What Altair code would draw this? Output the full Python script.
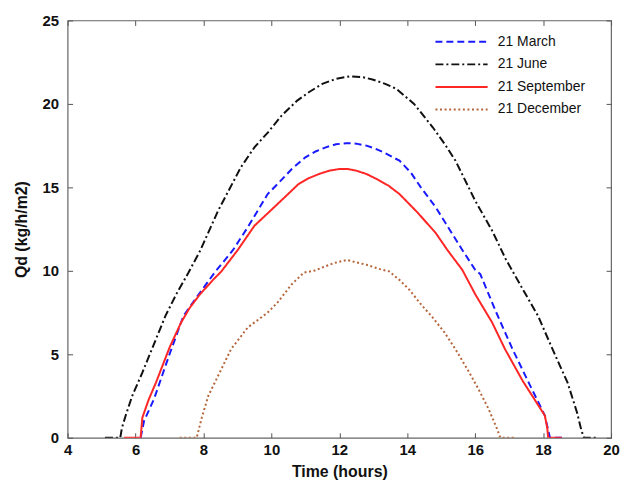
import altair as alt
import pandas as pd

series_names = ["21 March", "21 June", "21 September", "21 December"]
series_colors = ["#1a1aff", "#111111", "#ff2626", "#b5653a"]
series_dash = [[7, 4], [8, 3, 2, 3], [1, 0], [2, 2.6]]

march_t = [6.15, 6.25, 6.54, 7.0, 7.41, 7.9, 8.33, 8.87, 9.3, 9.89, 10.18, 10.6, 11.0, 11.3,
           11.6, 11.9, 12.2, 12.5, 12.8, 13.05, 13.3, 13.77, 14.1, 14.4, 14.84, 15.13, 15.62,
           16.0, 16.15, 16.6, 17.1, 17.6, 18.05, 18.2, 18.6]
march_q = [0, 1.0, 2.3, 5.0, 7.3, 8.7, 9.9, 11.25, 12.6, 14.6, 15.2, 16.1, 16.8, 17.15,
           17.4, 17.58, 17.65, 17.62, 17.5, 17.33, 17.1, 16.6, 15.9, 15.0, 13.8, 12.85, 11.25,
           10.06, 9.8, 7.6, 5.3, 3.2, 1.33, 0, 0]

june_t = [5.1, 5.55, 5.6, 5.71, 5.9, 6.2, 6.48, 6.88, 7.2, 7.56, 7.9, 8.43, 9.1, 9.5, 9.9,
          10.3, 10.76, 11.1, 11.5, 11.9, 12.3, 12.7, 13.0, 13.35, 13.68, 14.2, 14.75, 15.1,
          15.42, 16.0, 16.5, 16.9, 17.4, 17.85, 18.3, 18.72, 19.0, 19.12, 19.2, 19.6]
june_q = [0, 0, 0.6, 1.33, 2.5, 3.9, 5.3, 7.3, 8.6, 9.9, 11.2, 13.6, 16.2, 17.4, 18.3,
          19.3, 20.2, 20.7, 21.2, 21.5, 21.65, 21.6, 21.45, 21.2, 20.9, 20.0, 18.6, 17.6,
          16.6, 14.2, 12.4, 10.7, 8.9, 7.3, 5.2, 3.3, 1.5, 0.5, 0, 0]

sept_t = [5.66, 6.15, 6.2, 6.39, 6.6, 7.0, 7.34, 7.6, 7.9, 8.3, 8.52, 9.01, 9.5, 10.18, 10.8,
          11.1, 11.4, 11.7, 12.0, 12.25, 12.5, 12.8, 13.1, 13.45, 13.77, 14.3, 14.84, 15.18,
          15.62, 16.0, 16.5, 16.88, 17.4, 18.05, 18.12, 18.15, 18.55]
sept_q = [0, 0, 1.2, 2.3, 3.3, 5.4, 6.9, 7.8, 8.6, 9.5, 9.95, 11.25, 12.7, 14.0, 15.2,
          15.55, 15.8, 16.0, 16.1, 16.1, 16.0, 15.8, 15.5, 15.1, 14.6, 13.5, 12.26, 11.25,
          10.06, 8.6, 6.9, 5.3, 3.4, 1.33, 0.6, 0, 0]

dec_t = [7.3, 7.8, 7.95, 8.14, 8.5, 8.81, 9.3, 9.89, 10.18, 10.6, 10.96, 11.25, 11.5, 11.83,
         12.22, 12.8, 13.2, 13.47, 13.8, 14.06, 14.4, 14.75, 15.1, 15.42, 15.8, 16.1, 16.4,
         16.64, 16.74, 17.17]
dec_q = [0, 0, 1.2, 2.5, 4.0, 5.3, 6.6, 7.5, 8.1, 9.2, 9.9, 10.0, 10.2, 10.46,
         10.65, 10.36, 10.1, 9.96, 9.4, 8.87, 8.0, 7.2, 6.3, 5.3, 4.0, 2.9, 1.7,
         0.55, 0, 0]

x_ticks = [4, 6, 8, 10, 12, 14, 16, 18, 20]
y_ticks = [0, 5, 10, 15, 20, 25]

rows = []
for name, ts, qs in zip(series_names, [march_t, june_t, sept_t, dec_t],
                        [march_q, june_q, sept_q, dec_q]):
    for t, q in zip(ts, qs):
        rows.append({"series": name, "t": t, "q": q})
df = pd.DataFrame(rows)

FONT = "Liberation Sans"
tick_color = "#555555"

xscale = alt.Scale(domain=[4, 20], nice=False, zero=False)
yscale = alt.Scale(domain=[0, 25], nice=False)

lines = alt.Chart(df).mark_line(strokeWidth=2, clip=True).encode(
    x=alt.X("t:Q", scale=xscale,
            axis=alt.Axis(values=x_ticks, title="Time (hours)", offset=-5, tickSize=5,
                          domain=False, grid=False, tickColor=tick_color,
                          labelPadding=5, titlePadding=6, labelFlush=False)),
    y=alt.Y("q:Q", scale=yscale,
            axis=alt.Axis(values=y_ticks, title="Qd (kg/h/m2)", offset=-5, tickSize=5,
                          domain=False, grid=False, tickColor=tick_color,
                          labelPadding=9, titlePadding=13, labelFlush=False)),
    color=alt.Color("series:N",
                    scale=alt.Scale(domain=series_names, range=series_colors),
                    legend=alt.Legend(title=None, orient="none", legendX=385, legendY=10,
                                      symbolType="M-2.5,0L2.5,0", symbolSize=441,
                                      symbolStrokeWidth=2, labelOffset=25,
                                      labelFont=FONT, labelFontSize=14, labelColor="#111",
                                      rowPadding=3.7, padding=0)),
    strokeDash=alt.StrokeDash("series:N",
                              scale=alt.Scale(domain=series_names, range=series_dash),
                              legend=None),
    detail="series:N",
)

frame_axes = alt.Chart(df).mark_point(opacity=0).encode(
    x=alt.X("t:Q", scale=xscale,
            axis=alt.Axis(orient="top", values=x_ticks, title=None, labels=False,
                          offset=-5, tickSize=5, domain=False, grid=False,
                          tickColor=tick_color)),
    y=alt.Y("q:Q", scale=yscale,
            axis=alt.Axis(orient="right", values=y_ticks, title=None, labels=False,
                          offset=-5, tickSize=5, domain=False, grid=False,
                          tickColor=tick_color)),
)

chart = alt.layer(lines, frame_axes).resolve_axis(
    x="independent", y="independent"
).properties(
    width=547, height=420,
    autosize=alt.AutoSizeParams(type="none"),
    padding={"left": 60, "top": 11, "right": 9, "bottom": 43},
).configure_view(
    stroke="#666666", strokeWidth=1.2
).configure_axis(
    labelFont=FONT, labelFontSize=15, labelFontWeight="bold", labelColor="#111",
    titleFont=FONT, titleFontSize=16, titleFontWeight="bold", titleColor="#111",
    tickWidth=1
)

chart.save("out.html", embed_options={"renderer": "svg", "actions": False})
